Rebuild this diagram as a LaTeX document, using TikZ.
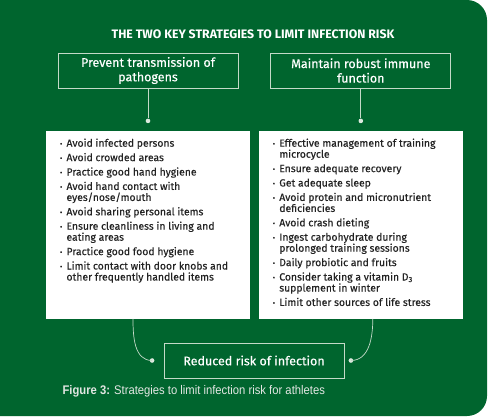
\documentclass[tikz,border=0pt]{standalone}
\usepackage{fontspec}
\setmainfont{Fira Sans}
\newfontfamily\listfont[FakeBold=0.35]{Fira Sans}
\newfontfamily\capfont[FakeStretch=0.9]{Liberation Sans}
\usetikzlibrary{arrows.meta, positioning}
\definecolor{bggreen}{RGB}{0,101,46}
\definecolor{linegreen}{RGB}{196,218,200}
\definecolor{capgray}{RGB}{226,230,226}
\definecolor{listtext}{RGB}{35,35,35}

\newcommand{\itm}[1]{\par\hangindent=6.5pt\hangafter=1\noindent\makebox[6.5pt][l]{\raisebox{0.1ex}{\scriptsize\textbullet}}#1}
\newcommand{\listbody}[1]{\parbox[c][172pt][t]{176pt}{\raggedright\setlength{\parskip}{3.4pt}\listfont\fontsize{10.4}{11}\selectfont #1}}

\begin{document}
\begin{tikzpicture}[
  x=1pt, y=1pt,
  headbox/.style={rectangle, draw=linegreen, line width=0.8pt, minimum width=180pt, minimum height=35pt, inner sep=2pt, align=center, text=white, font=\listfont\fontsize{12.5}{14.5}\selectfont},
  listbox/.style={rectangle, fill=white, minimum width=204pt, minimum height=188pt, inner sep=0pt, text=listtext},
  dot/.style={circle, fill=linegreen!60!white, minimum size=4.6pt, inner sep=0pt},
  link/.style={draw=linegreen, line width=0.7pt},
]
\useasboundingbox (0,0) rectangle (500,-418);
\fill[white] (0,0) rectangle (500,-418);
\fill[bggreen] (0,0) [rounded corners=20pt] -- (487,0) -- (487,-416) [sharp corners] -- (0,-416) -- cycle;

\node[text=white, font=\bfseries\fontsize{12.3}{14}\selectfont] (title) at (253,-34) {THE TWO KEY STRATEGIES TO LIMIT INFECTION RISK};
\node[headbox] (prev) at (148,-70.5) {Prevent transmission of\\pathogens};
\node[headbox, right=32pt of prev] (immu) {Maintain robust immune\\function};
\node[dot, below=30pt of prev] (prevdot) {};
\node[dot, below=30pt of immu] (immudot) {};

\node[listbox, below=42pt of prev] (prevlist) {\listbody{%
  \itm{Avoid infected persons}
  \itm{Avoid crowded areas}
  \itm{Practice good hand hygiene}
  \itm{Avoid hand contact with eyes/nose/mouth}
  \itm{Avoid sharing personal items}
  \itm{Ensure cleanliness in living and eating areas}
  \itm{Practice good food hygiene}
  \itm{Limit contact with door knobs and other frequently handled items}}};
\node[listbox, below=42pt of immu] (immulist) {\listbody{%
  \itm{Effective management of training microcycle}
  \itm{Ensure adequate recovery}
  \itm{Get adequate sleep}
  \itm{Avoid protein and micronutrient deficiencies}
  \itm{Avoid crash dieting}
  \itm{Ingest carbohydrate during prolonged training sessions}
  \itm{Daily probiotic and fruits}
  \itm{Consider taking a vitamin D\textsubscript{3} supplement in winter}
  \itm{Limit other sources of life stress}}};

\node[headbox] (red) at (254,-360.5) {Reduced risk of infection};
\node[dot, left=9pt of red] (ldot) {};
\node[dot, right=4pt of red] (rdot) {};

\node[anchor=west, text=capgray, font=\capfont\fontsize{12.5}{14}\selectfont] (cap) at (59,-391) {\textbf{Figure 3:} Strategies to limit infection risk for athletes};

\draw[link] (prev) -- (prevdot);
\draw[link] (immu) -- (immudot);
\draw[link] ([xshift=-15pt]prevlist.south) to[out=-90, in=180] (ldot.center);
\draw[link] ([xshift=12pt]immulist.south) to[out=-90, in=0] (rdot.center);
\end{tikzpicture}
\end{document}
